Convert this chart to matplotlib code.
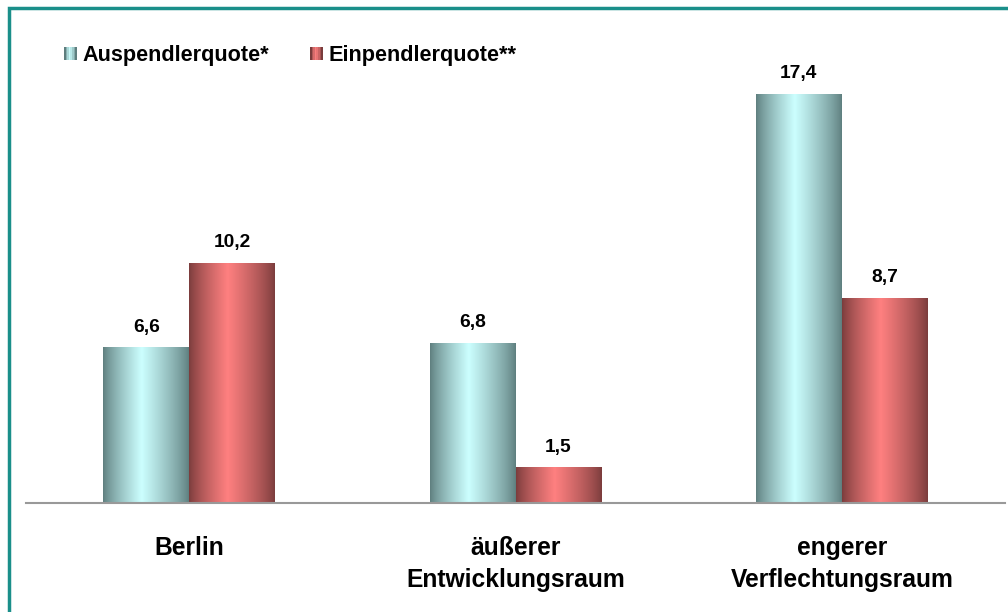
import numpy as np
import matplotlib
matplotlib.use("Agg")
import matplotlib.pyplot as plt
from matplotlib.patches import Rectangle
from matplotlib.legend_handler import HandlerBase
from matplotlib.colors import to_rgb

plt.rcParams['font.family'] = ['Liberation Sans', 'DejaVu Sans']

categories = ["Berlin", "äußerer\nEntwicklungsraum", "engerer\nVerflechtungsraum"]
series_names = ["Auspendlerquote*", "Einpendlerquote**"]
auspendler = [6.6, 6.8, 17.4]
einpendler = [10.2, 1.5, 8.7]
value_labels_a = ["6,6", "6,8", "17,4"]
value_labels_e = ["10,2", "1,5", "8,7"]

light_colors = ["#CCFFFF", "#FF8080"]
dark_colors = ["#5E7E7E", "#7A3C3C"]


def gradient_row(light, dark, n=200):
    l = np.array(to_rgb(light))
    d = np.array(to_rgb(dark))
    t = np.linspace(0, 1, n)
    peak = 0.45
    w = np.where(t < peak, t / peak, (1 - t) / (1 - peak))
    w = np.clip(w, 0, 1) ** 0.8
    return d[None, :] * (1 - w[:, None]) + l[None, :] * w[:, None]


fig = plt.figure(figsize=(10.08, 6.12), dpi=100)
W, H = 1008, 612
base_y = 503
ax = fig.add_axes([26 / W, (H - base_y) / H, 979 / W, 470 / H])
ax.set_xlim(-0.5, 2.5)
ax.set_ylim(0, 20)

# figure frame (teal, left and top visible)
fig.patches.append(Rectangle((9 / W, -0.05), 1.2, (H - 8) / H + 0.05, transform=fig.transFigure,
                             fill=False, edgecolor="#1A8F8A", linewidth=2.5, zorder=0))

x = np.arange(len(categories))
bw = 0.263
bars_a = ax.bar(x - bw / 2, auspendler, bw, color="none", edgecolor="none")
bars_e = ax.bar(x + bw / 2, einpendler, bw, color="none", edgecolor="none")

for bars, lc, dc in [(bars_a, light_colors[0], dark_colors[0]), (bars_e, light_colors[1], dark_colors[1])]:
    grad = gradient_row(lc, dc)[None, :, :]
    for r in bars:
        x0, y0 = r.get_x(), r.get_y()
        ax.imshow(grad, extent=[x0, x0 + r.get_width(), y0, y0 + r.get_height()],
                  aspect='auto', interpolation='bilinear', zorder=2)

for bars, labs in [(bars_a, value_labels_a), (bars_e, value_labels_e)]:
    for r, lab in zip(bars, labs):
        ax.annotate(lab, (r.get_x() + r.get_width() / 2, r.get_height()),
                    xytext=(0, 14.8), textcoords="offset points", ha="center", va="center",
                    fontsize=13.8, fontweight="bold", color="black")

ax.set_xlim(-0.5, 2.5)
ax.set_ylim(0, 20)
for s in ["top", "right", "left"]:
    ax.spines[s].set_visible(False)
ax.spines["bottom"].set_color("#999999")
ax.spines["bottom"].set_linewidth(1.5)
ax.set_yticks([])
ax.set_xticks(x)
ax.set_xticklabels(categories, fontsize=17.7, fontweight="bold", linespacing=1.46)
ax.tick_params(axis="x", length=0, pad=23.5)
for t in ax.get_xticklabels():
    t.set_va("top")


class GradHandler(HandlerBase):
    def __init__(self, light, dark):
        super().__init__()
        self.light = light
        self.dark = dark

    def create_artists(self, legend, orig_handle, xdescent, ydescent, width, height, fontsize, trans):
        cols = gradient_row(self.light, self.dark, n=8)
        side = 9.2
        x0 = 0
        arts = []
        n = len(cols)
        for i, c in enumerate(cols):
            arts.append(Rectangle((x0 - xdescent + i * side / n, -ydescent + (height - side) / 2 + 0.5),
                                  side / n + 0.2, side,
                                  facecolor=c, edgecolor="none", transform=trans))
        return arts


h1 = Rectangle((0, 0), 1, 1)
h2 = Rectangle((0, 0), 1, 1)
fig.legend([h1, h2], series_names, loc="center left", bbox_to_anchor=(64 / W, 1 - 56 / H),
           ncol=2, frameon=False, prop={"weight": "bold", "size": 15.6},
           handler_map={h1: GradHandler(light_colors[0], dark_colors[0]),
                        h2: GradHandler(light_colors[1], dark_colors[1])},
           handlelength=0.57, handletextpad=0.27, columnspacing=1.9, borderaxespad=0, borderpad=0)

fig.savefig("out.png", dpi=100)
